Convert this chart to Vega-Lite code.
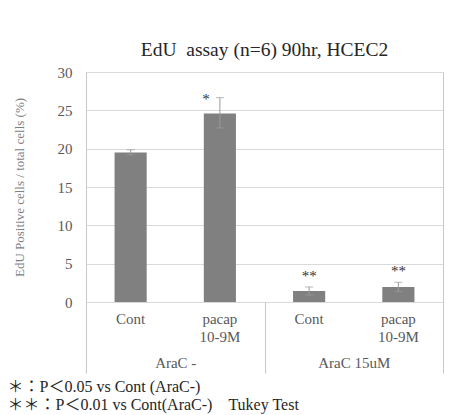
{
  "$schema": "https://vega.github.io/schema/vega-lite/v6.json",
  "width": 357,
  "height": 230,
  "autosize": "none",
  "padding": {"left": 86, "top": 72, "right": 10, "bottom": 113},
  "background": "white",
  "config": {
    "font": "Liberation Serif",
    "view": {"stroke": "#c8c8c8", "strokeWidth": 1},
    "axisY": {
      "values": [0, 5, 10, 15, 20, 25, 30],
      "title": "EdU Positive cells / total cells (%)",
      "titleFont": "Liberation Serif",
      "titleFontSize": 13,
      "titleFontWeight": "normal",
      "titleColor": "#808080",
      "titlePadding": 31,
      "labelFont": "Liberation Serif",
      "labelFontSize": 15,
      "labelColor": "#595959",
      "labelPadding": 14,
      "labelOverlap": false,
      "ticks": false,
      "domain": false,
      "grid": true,
      "gridColor": "#d9d9d9"
    }
  },
  "title": {
    "text": "EdU\u00a0 assay (n=6) 90hr, HCEC2",
    "font": "Liberation Serif",
    "fontSize": 19.5,
    "fontWeight": "normal",
    "color": "#262626",
    "anchor": "middle",
    "frame": "group",
    "baseline": "alphabetic",
    "offset": -10
  },
  "data": {
    "values": [
      {"id": "AraC -/Cont", "group": "AraC -", "condition": "Cont", "value": 19.5, "low": 19.2, "high": 19.85, "sig": ""},
      {"id": "AraC -/pacap 10-9M", "group": "AraC -", "condition": "pacap 10-9M", "value": 24.6, "low": 22.7, "high": 26.65, "sig": "*"},
      {"id": "AraC 15uM/Cont", "group": "AraC 15uM", "condition": "Cont", "value": 1.43, "low": 0.9, "high": 1.96, "sig": "**"},
      {"id": "AraC 15uM/pacap 10-9M", "group": "AraC 15uM", "condition": "pacap 10-9M", "value": 1.96, "low": 1.35, "high": 2.57, "sig": "**"}
    ]
  },
  "layer": [
    {
      "layer": [
        {
          "mark": {"type": "bar", "color": "#808080"},
          "encoding": {
            "x": {
              "field": "id",
              "type": "nominal",
              "sort": null,
              "scale": {
                "domain": ["AraC -/Cont", "AraC -/pacap 10-9M", "AraC 15uM/Cont", "AraC 15uM/pacap 10-9M"],
                "paddingInner": 0.64,
                "paddingOuter": 0.32
              },
              "axis": {
                "orient": "bottom",
                "title": null,
                "labelAngle": 0,
                "labelExpr": "split(split(datum.value, '/')[1], ' ')",
                "labelFont": "Liberation Serif",
                "labelFontSize": 15,
                "labelColor": "#595959",
                "labelLineHeight": 18,
                "labelPadding": 9,
                "ticks": false,
                "tickSize": 0,
                "domain": false,
                "grid": false
              }
            },
            "y": {
              "field": "value",
              "type": "quantitative",
              "scale": {"domain": [0, 30]},
              "title": "EdU Positive cells / total cells (%)"
            }
          }
        },
        {
          "mark": {"type": "errorbar", "color": "#9a9a9a", "ticks": {"size": 8}},
          "encoding": {
            "x": {"field": "id", "type": "nominal", "sort": null},
            "y": {"field": "low", "type": "quantitative", "title": "EdU Positive cells / total cells (%)"},
            "y2": {"field": "high"}
          }
        },
        {
          "transform": [{"filter": "datum.sig == '**'"}],
          "mark": {"type": "text", "baseline": "bottom", "dy": -3, "fontSize": 15, "fill": "#333333", "font": "Liberation Serif"},
          "encoding": {
            "x": {"field": "id", "type": "nominal", "sort": null},
            "y": {"field": "high", "type": "quantitative", "title": "EdU Positive cells / total cells (%)"},
            "text": {"field": "sig"}
          }
        },
        {
          "transform": [{"filter": "datum.sig == '*'"}],
          "mark": {"type": "text", "baseline": "middle", "dx": -14, "dy": 1, "fontSize": 15, "fill": "#333333", "font": "Liberation Serif"},
          "encoding": {
            "x": {"field": "id", "type": "nominal", "sort": null},
            "y": {"field": "high", "type": "quantitative", "title": "EdU Positive cells / total cells (%)"},
            "text": {"field": "sig"}
          }
        }
      ]
    },
    {
      "mark": {"type": "text"},
      "encoding": {
        "x": {
          "field": "group",
          "type": "nominal",
          "sort": null,
          "scale": {"paddingInner": 0, "paddingOuter": 0},
          "axis": {
            "orient": "bottom",
            "labelAngle": 0,
            "labelFont": "Liberation Serif",
            "labelFontSize": 15,
            "labelColor": "#595959",
            "labelPadding": -18,
            "ticks": true,
            "tickBand": "extent",
            "tickSize": 71,
            "tickColor": "#c8c8c8",
            "domain": false,
            "grid": false,
            "title": ["＊：P＜0.05 vs Cont (AraC-)", "＊＊：P＜0.01 vs Cont(AraC-)　Tukey Test"],
            "titleFont": "Liberation Serif, Noto Sans CJK JP",
            "titleFontSize": 16,
            "titleFontWeight": "normal",
            "titleColor": "#262626",
            "titleAnchor": "start",
            "titleAlign": "left",
            "titleBaseline": "top",
            "titleX": -79,
            "titleY": 76,
            "titleLineHeight": 18
          }
        },
        "text": {"value": ""}
      }
    }
  ],
  "resolve": {"scale": {"x": "independent"}, "axis": {"x": "independent"}}
}
